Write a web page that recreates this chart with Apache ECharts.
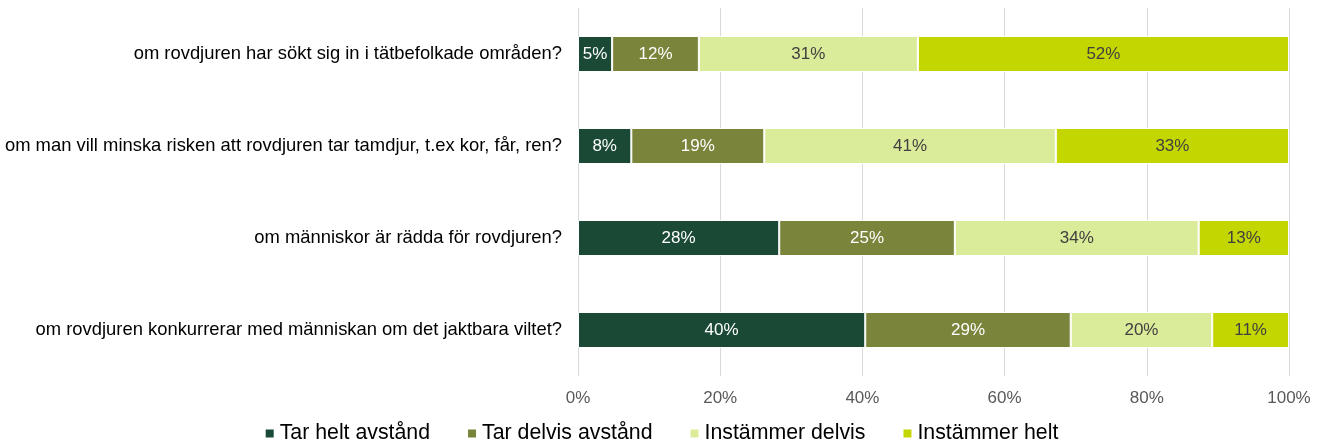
<!DOCTYPE html>
<html>
<head>
<meta charset="utf-8">
<script src="https://cdn.jsdelivr.net/npm/echarts@6/dist/echarts.min.js"></script>
<style>
  html, body { margin: 0; padding: 0; background: #ffffff; }
  #chart { width: 1322px; height: 444px; }
</style>
</head>
<body>
<div id="chart"></div>
<script>
// Survey questions (top to bottom)
const categories = [
  'om rovdjuren har sökt sig in i tätbefolkade områden?',
  'om man vill minska risken att rovdjuren tar tamdjur, t.ex kor, får, ren?',
  'om människor är rädda för rovdjuren?',
  'om rovdjuren konkurrerar med människan om det jaktbara viltet?'
];

// Response shares in percent, one array per answer option
const seriesNames = ['Tar helt avstånd', 'Tar delvis avstånd', 'Instämmer delvis', 'Instämmer helt'];
const tarHeltAvstand   = [4.8, 7.5, 28.3, 40.4];
const tarDelvisAvstand = [12.2, 18.7, 24.7, 28.9];
const instammerDelvis  = [30.8, 41.0, 34.3, 19.9];
const instammerHelt    = [52.2, 32.8, 12.7, 10.8];

const xTicks = [0, 20, 40, 60, 80, 100];

const colors = ['#1a4936', '#7a843b', '#daec9a', '#c4d600'];
const labelColors = ['#ffffff', '#ffffff', '#404040', '#404040'];
const values = [tarHeltAvstand, tarDelvisAvstand, instammerDelvis, instammerHelt];

const FONT = 'Liberation Sans, Arial, sans-serif';
const chart = echarts.init(document.getElementById('chart'), null, { renderer: 'canvas' });

chart.setOption({
  animation: false,
  textStyle: { fontFamily: FONT },
  grid: { left: 578, right: 33, top: 8, bottom: 68, containLabel: false },
  legend: {
    top: 418,
    left: 'center',
    itemWidth: 10,
    itemHeight: 10,
    itemGap: 36,
    itemSpacing: 5,
    icon: 'rect',
    textStyle: { fontSize: 21.3, color: '#000000', fontFamily: FONT },
    data: seriesNames
  },
  xAxis: {
    type: 'value',
    min: xTicks[0],
    max: xTicks[xTicks.length - 1],
    interval: 20,
    axisLine: { show: false },
    axisTick: { show: false },
    splitLine: { show: true, lineStyle: { color: '#d9d9d9', width: 1 } },
    axisLabel: {
      color: '#595959',
      fontSize: 17,
      margin: 14,
      formatter: v => v + '%'
    }
  },
  yAxis: {
    type: 'category',
    inverse: true,
    data: categories,
    axisLine: { show: false },
    axisTick: { show: false },
    axisLabel: { color: '#000000', fontSize: 18.4, margin: 16 }
  },
  series: values.map((arr, i) => ({
    name: seriesNames[i],
    type: 'bar',
    stack: 'total',
    barWidth: 36,
    data: arr,
    itemStyle: { color: colors[i], borderColor: '#ffffff', borderWidth: 1 },
    label: {
      show: true,
      position: 'inside',
      color: labelColors[i],
      fontSize: 17,
      formatter: p => Math.round(p.value) + '%'
    }
  }))
});
</script>
</body>
</html>
